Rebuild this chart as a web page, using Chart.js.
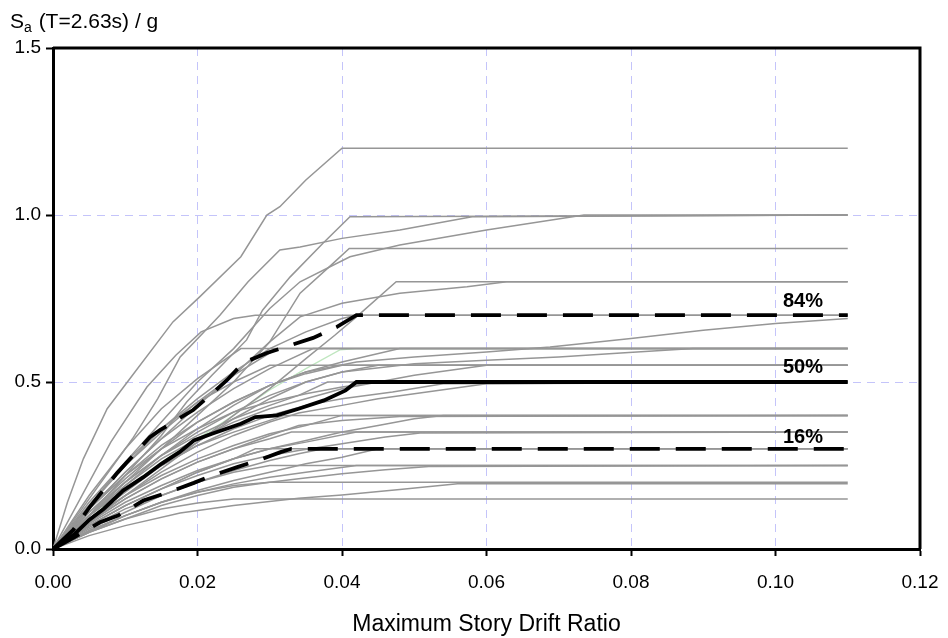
<!DOCTYPE html>
<html><head><meta charset="utf-8">
<script src="https://cdn.jsdelivr.net/npm/chart.js@4.4.0/dist/chart.umd.min.js"></script>
<style>html,body{margin:0;padding:0;background:#fff}#wrap{width:948px;height:638px}</style>
</head><body><div id="wrap"><canvas id="c" width="948" height="638"></canvas></div>
<script>
// ---- axis ticks ----
const xTicks = [0, 0.02, 0.04, 0.06, 0.08, 0.10, 0.12];
const yTicks = [0, 0.5, 1.0, 1.5];

// ---- percentile curves [drift, Sa] ----
const p84 = [[0,0],[0.0028,0.057],[0.0051,0.126],[0.0089,0.228],[0.0134,0.335],[0.0148,0.356],[0.0194,0.416],[0.0221,0.467],[0.0241,0.506],[0.0263,0.557],[0.0296,0.587],[0.036,0.632],[0.0393,0.665],[0.042,0.70],[0.11,0.70]];
const p50 = [[0,0],[0.003,0.045],[0.005,0.087],[0.007,0.12],[0.008,0.14],[0.0097,0.175],[0.0125,0.215],[0.015,0.255],[0.0175,0.29],[0.0195,0.325],[0.022,0.345],[0.026,0.375],[0.028,0.395],[0.031,0.40],[0.034,0.42],[0.0375,0.445],[0.0405,0.475],[0.042,0.50],[0.11,0.50]];
const p16 = [[0,0],[0.003,0.036],[0.0065,0.08],[0.009,0.10],[0.0125,0.145],[0.016,0.17],[0.0195,0.198],[0.022,0.22],[0.0255,0.245],[0.029,0.27],[0.0315,0.29],[0.033,0.30],[0.11,0.30]];

// ---- percentile labels ----
const pctLabels = ['84%', '50%', '16%'];
const pctLabelX = [0.1038, 0.1038, 0.1038];
const pctLabelY = [0.74, 0.542, 0.335];

// ---- individual record IDA curves [drift, Sa] ----
const upperRecords = [
  [[0,0],[0.002,0.14],[0.0042,0.27],[0.0075,0.42],[0.011,0.52],[0.0166,0.68],[0.0203,0.755],[0.026,0.875],[0.0296,1.0],[0.0314,1.025],[0.035,1.105],[0.040,1.2],[0.11,1.2]],
  [[0,0],[0.005,0.1],[0.01,0.22],[0.015,0.34],[0.0185,0.44],[0.022,0.52],[0.0268,0.626],[0.029,0.715],[0.0328,0.814],[0.0374,0.916],[0.0411,0.995],[0.11,1.0]],
  [[0,0],[0.004,0.12],[0.008,0.24],[0.011,0.33],[0.0145,0.45],[0.0176,0.575],[0.0231,0.70],[0.027,0.80],[0.0314,0.895],[0.0342,0.904],[0.040,0.93],[0.048,0.955],[0.058,0.995],[0.11,1.0]],
  [[0,0],[0.005,0.13],[0.01,0.26],[0.015,0.38],[0.02,0.5],[0.025,0.6],[0.03,0.72],[0.0342,0.80],[0.0411,0.875],[0.048,0.91],[0.06,0.955],[0.0735,1.0],[0.11,1.0]],
  [[0,0],[0.005,0.1],[0.01,0.2],[0.015,0.3],[0.02,0.4],[0.025,0.5],[0.03,0.62],[0.0342,0.766],[0.0388,0.856],[0.041,0.9],[0.11,0.9]],
  [[0,0],[0.005,0.08],[0.01,0.16],[0.015,0.24],[0.02,0.32],[0.025,0.40],[0.03,0.48],[0.035,0.57],[0.039,0.64],[0.042,0.695],[0.0475,0.8],[0.11,0.8]],
  [[0,0],[0.005,0.12],[0.01,0.23],[0.015,0.33],[0.02,0.43],[0.025,0.52],[0.03,0.62],[0.0342,0.695],[0.040,0.736],[0.048,0.766],[0.0573,0.785],[0.0628,0.8],[0.11,0.8]],
  [[0,0],[0.004,0.16],[0.008,0.32],[0.013,0.485],[0.017,0.58],[0.0205,0.65],[0.025,0.69],[0.028,0.70],[0.11,0.70]],
  [[0,0],[0.005,0.13],[0.01,0.25],[0.015,0.36],[0.02,0.45],[0.025,0.53],[0.03,0.6],[0.035,0.65],[0.04,0.69],[0.042,0.7],[0.11,0.7]],
  [[0,0],[0.005,0.1],[0.01,0.19],[0.015,0.28],[0.02,0.36],[0.025,0.43],[0.03,0.49],[0.035,0.53],[0.042,0.56],[0.05,0.575],[0.06,0.59],[0.0688,0.605],[0.08,0.63],[0.09,0.655],[0.1,0.675],[0.11,0.69]]
];
const middleRecords = [
  [[0,0],[0.005,0.09],[0.01,0.17],[0.015,0.25],[0.02,0.32],[0.025,0.39],[0.03,0.45],[0.035,0.5],[0.04,0.53],[0.05,0.555],[0.06,0.565],[0.07,0.575],[0.0786,0.587],[0.0886,0.6],[0.11,0.6]],
  [[0,0],[0.005,0.16],[0.01,0.3],[0.015,0.42],[0.02,0.51],[0.026,0.6],[0.11,0.6]],
  [[0,0],[0.005,0.12],[0.01,0.23],[0.015,0.33],[0.02,0.41],[0.025,0.48],[0.03,0.54],[0.036,0.6],[0.11,0.6]],
  [[0,0],[0.005,0.11],[0.01,0.21],[0.015,0.3],[0.02,0.38],[0.025,0.44],[0.03,0.49],[0.035,0.53],[0.04,0.56],[0.044,0.58],[0.048,0.6],[0.11,0.6]],
  [[0,0],[0.005,0.13],[0.01,0.25],[0.015,0.35],[0.02,0.44],[0.025,0.52],[0.031,0.6],[0.11,0.6]],
  [[0,0],[0.005,0.14],[0.01,0.26],[0.015,0.36],[0.02,0.44],[0.025,0.5],[0.03,0.55],[0.11,0.55]],
  [[0,0],[0.005,0.1],[0.01,0.2],[0.015,0.28],[0.02,0.35],[0.025,0.41],[0.03,0.46],[0.035,0.5],[0.04,0.53],[0.045,0.55],[0.11,0.55]],
  [[0,0],[0.005,0.1],[0.01,0.19],[0.015,0.27],[0.02,0.33],[0.025,0.38],[0.03,0.42],[0.035,0.45],[0.04,0.48],[0.045,0.5],[0.05,0.52],[0.055,0.535],[0.06,0.55],[0.11,0.55]],
  [[0,0],[0.005,0.12],[0.01,0.22],[0.015,0.31],[0.02,0.38],[0.025,0.44],[0.03,0.49],[0.035,0.525],[0.04,0.55],[0.11,0.55]],
  [[0,0],[0.005,0.085],[0.01,0.16],[0.015,0.23],[0.02,0.29],[0.025,0.34],[0.03,0.38],[0.034,0.407],[0.04,0.43],[0.045,0.45],[0.05,0.465],[0.055,0.48],[0.06,0.495],[0.11,0.5]],
  [[0,0],[0.005,0.1],[0.01,0.18],[0.015,0.25],[0.02,0.31],[0.025,0.36],[0.03,0.40],[0.035,0.43],[0.04,0.45],[0.047,0.47],[0.054,0.495],[0.11,0.5]],
  [[0,0],[0.005,0.11],[0.01,0.2],[0.015,0.28],[0.02,0.34],[0.025,0.39],[0.03,0.43],[0.034,0.46],[0.038,0.5],[0.11,0.5]],
  [[0,0],[0.005,0.12],[0.01,0.22],[0.015,0.3],[0.02,0.36],[0.025,0.41],[0.03,0.44],[0.035,0.465],[0.04,0.485],[0.045,0.5],[0.11,0.5]]
];
const lowerRecords = [
  [[0,0],[0.005,0.08],[0.01,0.15],[0.015,0.21],[0.02,0.26],[0.025,0.3],[0.03,0.34],[0.034,0.37],[0.04,0.385],[0.048,0.397],[0.11,0.4]],
  [[0,0],[0.005,0.09],[0.01,0.16],[0.015,0.22],[0.02,0.27],[0.025,0.31],[0.03,0.345],[0.035,0.37],[0.04,0.4],[0.11,0.4]],
  [[0,0],[0.005,0.1],[0.01,0.18],[0.015,0.25],[0.02,0.31],[0.025,0.35],[0.03,0.385],[0.032,0.4],[0.11,0.4]],
  [[0,0],[0.005,0.07],[0.01,0.13],[0.015,0.18],[0.02,0.23],[0.025,0.27],[0.03,0.3],[0.035,0.325],[0.04,0.35],[0.045,0.37],[0.05,0.39],[0.054,0.4],[0.11,0.4]],
  [[0,0],[0.005,0.07],[0.01,0.13],[0.015,0.18],[0.02,0.22],[0.025,0.255],[0.03,0.28],[0.034,0.295],[0.04,0.315],[0.046,0.335],[0.0508,0.347],[0.11,0.35]],
  [[0,0],[0.005,0.08],[0.01,0.15],[0.015,0.21],[0.02,0.26],[0.025,0.3],[0.03,0.33],[0.033,0.35],[0.11,0.35]],
  [[0,0],[0.005,0.075],[0.01,0.14],[0.015,0.19],[0.02,0.235],[0.025,0.27],[0.03,0.3],[0.035,0.32],[0.042,0.35],[0.11,0.35]],
  [[0,0],[0.005,0.06],[0.01,0.11],[0.015,0.16],[0.02,0.2],[0.025,0.235],[0.03,0.265],[0.034,0.285],[0.0374,0.3],[0.11,0.3]],
  [[0,0],[0.005,0.07],[0.01,0.13],[0.015,0.18],[0.02,0.23],[0.025,0.27],[0.028,0.3],[0.11,0.3]],
  [[0,0],[0.005,0.055],[0.01,0.1],[0.015,0.14],[0.02,0.175],[0.025,0.205],[0.03,0.23],[0.035,0.255],[0.04,0.275],[0.045,0.3],[0.11,0.3]],
  [[0,0],[0.005,0.05],[0.01,0.09],[0.015,0.13],[0.02,0.16],[0.025,0.185],[0.03,0.2],[0.034,0.21],[0.04,0.225],[0.046,0.237],[0.052,0.247],[0.11,0.25]],
  [[0,0],[0.005,0.055],[0.01,0.1],[0.015,0.14],[0.02,0.17],[0.025,0.195],[0.03,0.215],[0.035,0.23],[0.042,0.25],[0.11,0.25]],
  [[0,0],[0.005,0.065],[0.01,0.12],[0.015,0.16],[0.02,0.2],[0.025,0.23],[0.03,0.25],[0.11,0.25]],
  [[0,0],[0.005,0.05],[0.01,0.1],[0.015,0.14],[0.02,0.17],[0.025,0.19],[0.03,0.2],[0.11,0.2]],
  [[0,0],[0.005,0.04],[0.01,0.07],[0.0176,0.108],[0.025,0.13],[0.034,0.152],[0.040,0.162],[0.048,0.178],[0.056,0.195],[0.11,0.195]],
  [[0,0],[0.005,0.05],[0.01,0.09],[0.015,0.12],[0.02,0.138],[0.025,0.15],[0.11,0.15]]
];
const greenRecord = [[0,0],[0.005,0.09],[0.01,0.18],[0.015,0.26],[0.02,0.33],[0.024,0.386],[0.03,0.476],[0.035,0.54],[0.0397,0.596],[0.042,0.6],[0.11,0.6]];

// ---- build datasets ----
const toXY = arr => arr.map(p => ({x: p[0], y: p[1]}));
const GRAY = '#969696';
const datasets = [];
datasets.push({data: toXY(p84), borderColor: '#000', borderWidth: 3.8, borderDash: [30, 16], borderCapStyle: 'butt'});
datasets.push({data: toXY(p50), borderColor: '#000', borderWidth: 3.8});
datasets.push({data: toXY(p16), borderColor: '#000', borderWidth: 3.8, borderDash: [30, 16], borderCapStyle: 'butt'});
[upperRecords, middleRecords, lowerRecords].forEach(group => group.forEach(c => {
  datasets.push({data: toXY(c), borderColor: GRAY, borderWidth: 1.5});
}));
datasets.push({data: toXY(greenRecord), borderColor: '#bfe6bf', borderWidth: 1.2});
datasets.forEach(d => { d.showLine = true; d.pointRadius = 0; d.tension = 0; d.fill = false; });

const FONT = '"Liberation Sans", Arial, Helvetica, sans-serif';

const overlay = {
  id: 'overlay',
  afterDraw(chart) {
    const {ctx, chartArea: a, scales} = chart;
    ctx.save();
    // top & right frame
    ctx.strokeStyle = '#000'; ctx.lineWidth = 3;
    ctx.beginPath();
    ctx.moveTo(a.left, a.top); ctx.lineTo(a.right, a.top); ctx.lineTo(a.right, a.bottom);
    ctx.stroke();
    // percentile labels
    ctx.fillStyle = '#000';
    ctx.font = 'bold 20px ' + FONT;
    ctx.textAlign = 'center'; ctx.textBaseline = 'middle';
    pctLabels.forEach((t, i) => {
      ctx.fillText(t, scales.x.getPixelForValue(pctLabelX[i]), scales.y.getPixelForValue(pctLabelY[i]));
    });
    // x axis title
    ctx.font = '23px ' + FONT;
    ctx.fillText('Maximum Story Drift Ratio', (a.left + a.right) / 2, a.bottom + 76);
    // y axis title with subscript
    ctx.textAlign = 'left'; ctx.textBaseline = 'alphabetic';
    let x = 10; const base = 28;
    ctx.font = '21px ' + FONT;
    ctx.fillText('S', x, base); x += ctx.measureText('S').width;
    ctx.font = '14px ' + FONT;
    ctx.fillText('a', x, base + 4); x += ctx.measureText('a').width + 1;
    ctx.font = '21px ' + FONT;
    ctx.fillText(' (T=2.63s) / g', x, base);
    ctx.restore();
  }
};

const gridColor = (maxV) => (c) => (c.tick && (Math.abs(c.tick.value) < 1e-9 || Math.abs(c.tick.value - maxV) < 1e-9)) ? 'rgba(0,0,0,0)' : '#c4c4fa';

new Chart(document.getElementById('c'), {
  type: 'scatter',
  data: {datasets},
  options: {
    responsive: false,
    animation: false,
    devicePixelRatio: 1,
    layout: {padding: {top: 48, right: 28, left: 0, bottom: 0}},
    plugins: {legend: {display: false}, tooltip: {enabled: false}},
    scales: {
      x: {
        type: 'linear', min: 0, max: 0.12,
        afterBuildTicks: s => { s.ticks = xTicks.map(v => ({value: v})); },
        afterFit: s => { s.height = 89; s.paddingLeft = 0; s.paddingRight = 0; },
        ticks: {callback: v => Number(v).toFixed(2), color: '#000', font: {family: FONT, size: 19}, padding: 15, maxRotation: 0, autoSkip: false},
        grid: {color: gridColor(0.12), lineWidth: 1, drawTicks: true, tickLength: 7, tickColor: '#000', tickWidth: 2},
        border: {display: true, color: '#000', width: 3, dash: [8, 6]}
      },
      y: {
        type: 'linear', min: 0, max: 1.5,
        afterBuildTicks: s => { s.ticks = yTicks.map(v => ({value: v})); },
        afterFit: s => { s.width = 53; s.paddingTop = 0; s.paddingBottom = 0; },
        ticks: {callback: v => Number(v).toFixed(1), color: '#000', font: {family: FONT, size: 19}, padding: 5, autoSkip: false},
        grid: {color: gridColor(1.5), lineWidth: 1, drawTicks: true, tickLength: 7, tickColor: '#000', tickWidth: 2},
        border: {display: true, color: '#000', width: 3, dash: [8, 6]}
      }
    }
  },
  plugins: [overlay]
});
</script></body></html>
